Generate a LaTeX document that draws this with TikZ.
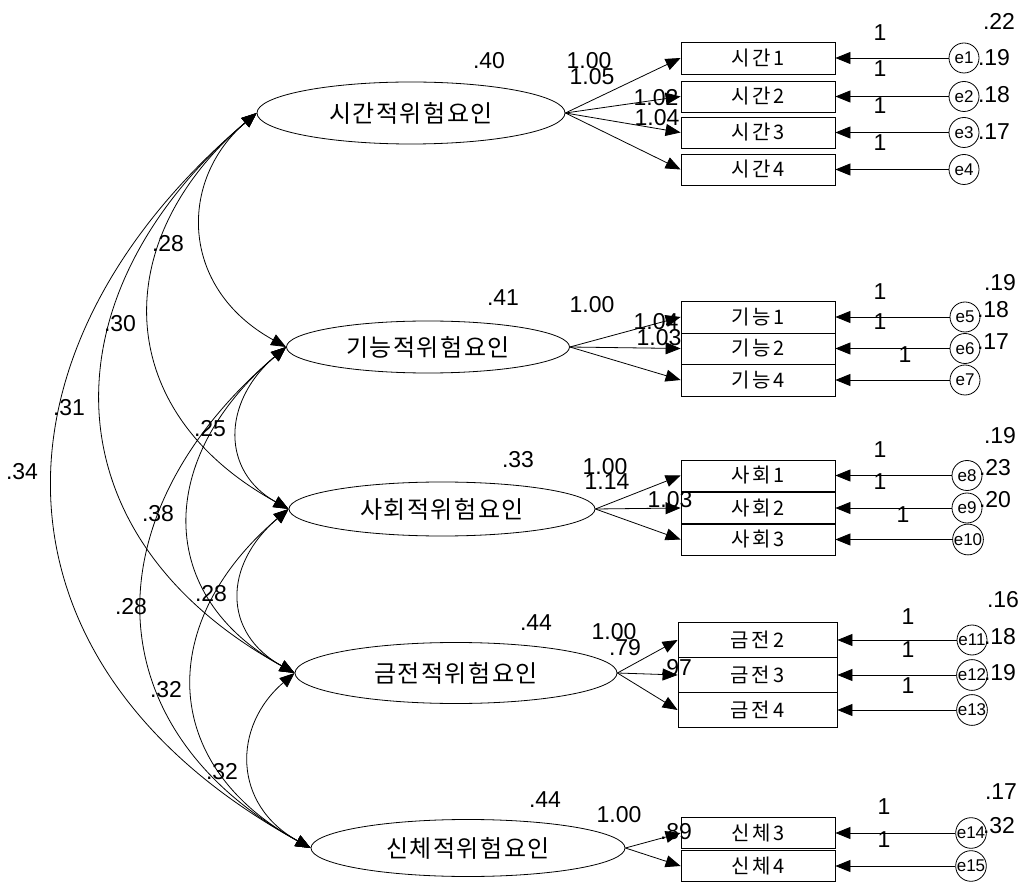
\documentclass[tikz,border=0pt]{standalone}
\usepackage{fontspec}
\setmainfont{Liberation Sans}
\newfontfamily\kLatFam[LetterSpace=6]{Noto Sans CJK KR}
\newfontfamily\kObsFam[LetterSpace=15]{Noto Sans CJK KR}
\usetikzlibrary{arrows.meta,shapes.geometric}

\tikzset{
  latent/.style={ellipse, draw, line width=0.8pt, inner sep=0pt,
    font=\kLatFam\fontsize{24}{24}\selectfont},
  obs/.style={rectangle, draw, line width=0.8pt, inner sep=0pt,
    minimum width=154pt, minimum height=32pt,
    font=\kObsFam\fontsize{20}{20}\selectfont},
  err/.style={circle, draw, line width=0.8pt, inner sep=0pt, minimum size=30pt,
    font=\fontsize{17}{17}\selectfont},
  num/.style={inner sep=0pt, font=\fontsize{23}{23}\selectfont},
  tipA/.tip={Triangle[length=15pt,width=12pt]},
  arr/.style={line width=0.8pt, -tipA},
  cov/.style={line width=0.8pt, tipA-tipA},
}

\begin{document}
\begin{tikzpicture}[x=1pt,y=-1pt]
\useasboundingbox (0,0) rectangle (1026,882);
\fill[white] (0,0) rectangle (1026,882);

% latent factors
\node[latent, minimum width=308pt, minimum height=62pt] (F1) at (411,113) {시간적위험요인};
\node[latent, minimum width=283pt, minimum height=52pt] (F2) at (428,347) {기능적위험요인};
\node[latent, minimum width=306pt, minimum height=54pt] (F3) at (442,509) {사회적위험요인};
\node[latent, minimum width=322pt, minimum height=61pt] (F4) at (456,673) {금전적위험요인};
\node[latent, minimum width=314pt, minimum height=57pt] (F5) at (468,848) {신체적위험요인};

% observed indicators
\node[obs] (x1) at (758,58)    {시간1};
\node[obs, minimum height=31pt] (x2) at (758,96.5)  {시간2};
\node[obs, minimum height=31pt] (x3) at (758,132.5) {시간3};
\node[obs, minimum height=31pt] (x4) at (758,169.5) {시간4};

\node[obs] (x5) at (758,317)   {기능1};
\node[obs, minimum height=31pt] (x6) at (758,348.5) {기능2};
\node[obs] (x7) at (758,380)   {기능4};

\node[obs, minimum height=31pt] (x8)  at (758,475.5) {사회1};
\node[obs] (x9)  at (758,508)   {사회2};
\node[obs] (x10) at (758,539.5) {사회3};

\node[obs, minimum width=159pt, minimum height=35pt] (x11) at (757.5,640) {금전2};
\node[obs, minimum width=159pt, minimum height=35pt] (x12) at (757.5,675) {금전3};
\node[obs, minimum width=159pt, minimum height=35pt] (x13) at (757.5,710) {금전4};

\node[obs, minimum height=31pt] (x14) at (758,833) {신체3};
\node[obs, minimum height=31pt] (x15) at (758,866) {신체4};

% error terms
\node[err] (e1)  at (964,58)    {e1};
\node[err] (e2)  at (964,96.5)  {e2};
\node[err] (e3)  at (964,132.5) {e3};
\node[err] (e4)  at (964,169.5) {e4};
\node[err] (e5)  at (965,317)   {e5};
\node[err] (e6)  at (965,348.5) {e6};
\node[err] (e7)  at (965,380)   {e7};
\node[err] (e8)  at (967,475.5) {e8};
\node[err] (e9)  at (967,508)   {e9};
\node[err] (e10) at (968,539.5) {e10};
\node[err] (e11) at (972,640)   {e11};
\node[err] (e12) at (972,675)   {e12};
\node[err] (e13) at (972,710)   {e13};
\node[err] (e14) at (971,833)   {e14};
\node[err] (e15) at (971,866)   {e15};

% variances of the error terms
\node[num] (v1)  at (999,21)  {.22};
\node[num] (v2)  at (994,58)  {.19};
\node[num] (v3)  at (994,95)  {.18};
\node[num] (v4)  at (994,132) {.17};
\node[num] (v5)  at (1000,283) {.19};
\node[num] (v6)  at (993,310) {.18};
\node[num] (v7)  at (993,342) {.17};
\node[num] (v8)  at (1000,436) {.19};
\node[num] (v9)  at (995,468) {.23};
\node[num] (v10) at (995,500) {.20};
\node[num] (v11) at (1003,600) {.16};
\node[num] (v12) at (1000,637) {.18};
\node[num] (v13) at (1000,673) {.19};
\node[num] (v14) at (1001,792) {.17};
\node[num] (v15) at (999,826) {.32};

% fixed error weights
\node[num] (w1)  at (880,33)  {1};
\node[num] (w2)  at (880,69)  {1};
\node[num] (w3)  at (880,106) {1};
\node[num] (w4)  at (880,143) {1};
\node[num] (w5)  at (880,292) {1};
\node[num] (w6)  at (880,322) {1};
\node[num] (w7)  at (905,355) {1};
\node[num] (w8)  at (880,450) {1};
\node[num] (w9)  at (880,482) {1};
\node[num] (w10) at (903,515) {1};
\node[num] (w11) at (908,617) {1};
\node[num] (w12) at (908,650) {1};
\node[num] (w13) at (908,686) {1};
\node[num] (w14) at (884,807) {1};
\node[num] (w15) at (884,840) {1};

% factor variances
\node[num] (fv1) at (489,61)  {.40};
\node[num] (fv2) at (503,298) {.41};
\node[num] (fv3) at (518,460) {.33};
\node[num] (fv4) at (536,623) {.44};
\node[num] (fv5) at (545,800) {.44};

% factor loadings
\node[num] (l1)  at (589,61)  {1.00};
\node[num] (l2)  at (592,77)  {1.05};
\node[num] (l3)  at (656,98)  {1.02};
\node[num] (l4)  at (657,118) {1.04};
\node[num] (l5)  at (592,305) {1.00};
\node[num] (l6)  at (656,322) {1.04};
\node[num] (l7)  at (659,338) {1.03};
\node[num] (l8)  at (605,467) {1.00};
\node[num] (l9)  at (607,482) {1.14};
\node[num] (l10) at (670,500) {1.03};
\node[num] (l11) at (614,632) {1.00};
\node[num] (l12) at (625,648) {.79};
\node[num] (l13) at (676,668) {.97};
\node[num] (l14) at (619,815) {1.00};
\node[num] (l15) at (676,832) {.89};

% covariances
\node[num] (c12) at (168,244) {.28};
\node[num] (c13) at (120,324) {.30};
\node[num] (c14) at (69,408)  {.31};
\node[num] (c15) at (22,472)  {.34};
\node[num] (c23) at (210,429) {.25};
\node[num] (c24) at (158,514) {.38};
\node[num] (c25) at (131,607) {.28};
\node[num] (c34) at (211,594) {.28};
\node[num] (c35) at (166,690) {.32};
\node[num] (c45) at (222,772) {.32};

% loading paths
\foreach \f/\x in {F1/x1,F1/x2,F1/x3,F1/x4,F2/x5,F2/x6,F2/x7,
                   F3/x8,F3/x9,F3/x10,F4/x11,F4/x12,F4/x13,F5/x14,F5/x15}
  \draw[arr] (\f.east) -- (\x.west);

% error paths
\foreach \i in {1,...,15}
  \draw[arr] (e\i) -- (x\i);

% covariance arcs
\draw[cov] (F1.west) .. controls (178.75,179.5) and (178.75,287.7) .. (F2.west);
\draw[cov] (F1.west) .. controls (109,238.8) and (109,410) .. (F3.west);
\draw[cov] (F1.west) .. controls (44,294) and (44,535) .. (F4.west);
\draw[cov] (F1.west) .. controls (-22.7,350.7) and (-22.7,664.5) .. (F5.west);
\draw[cov] (F2.west) .. controls (221.4,402.3) and (221.4,471.8) .. (F3.west);
\draw[cov] (F2.west) .. controls (155.1,458.7) and (155.1,596) .. (F4.west);
\draw[cov] (F2.west) .. controls (91.1,513.1) and (91.1,727) .. (F5.west);
\draw[cov] (F3.west) .. controls (222.7,565.4) and (222.7,633.2) .. (F4.west);
\draw[cov] (F3.west) .. controls (157.3,621) and (157.3,763.5) .. (F5.west);
\draw[cov] (F4.west) .. controls (232.3,726.3) and (232.3,804.7) .. (F5.west);
\end{tikzpicture}
\end{document}
